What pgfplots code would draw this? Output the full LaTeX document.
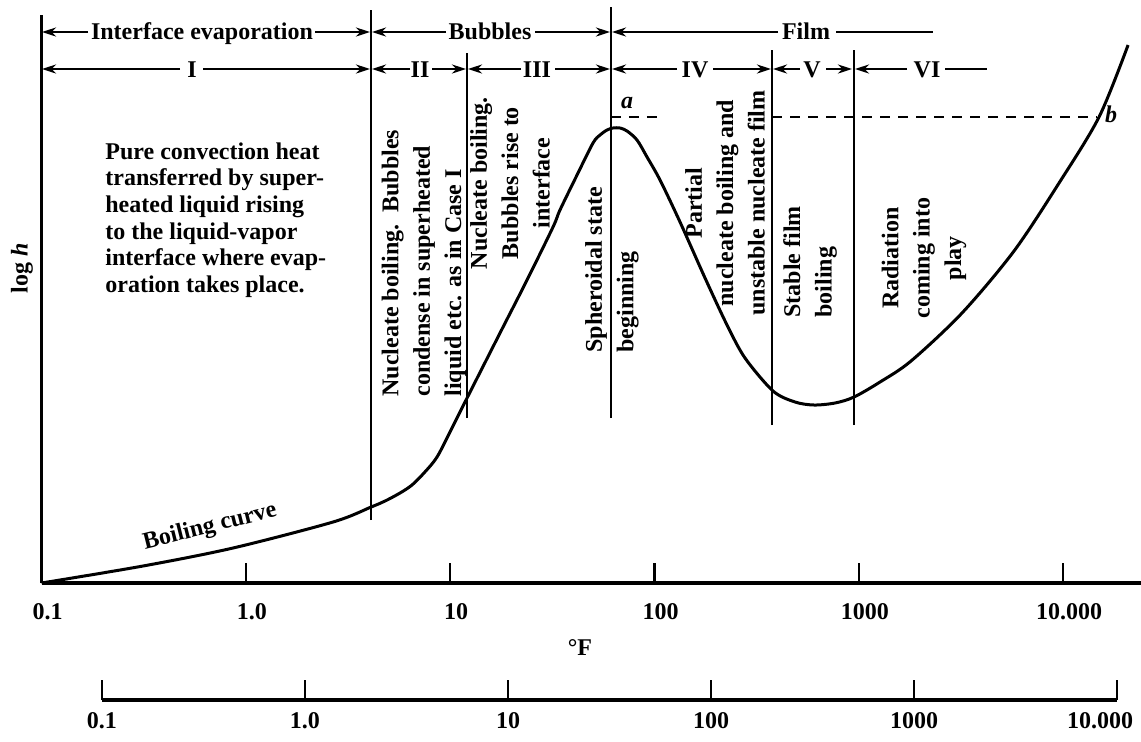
\documentclass[border=0pt]{standalone}
\usepackage{fontspec}
\setmainfont{Liberation Serif}
\usepackage{pgfplots}
\pgfplotsset{compat=1.18}
\usetikzlibrary{arrows.meta}

\newcommand{\lbl}{\bfseries\fontsize{12}{13.35}\selectfont}
\newcommand{\vlbl}{\bfseries\fontsize{12}{15.7}\selectfont}

\begin{document}
\begin{tikzpicture}[
  arr/.style={line width=1.2pt, -{Stealth[length=7pt,width=4.5pt]}},
  vl/.style={line width=1.2pt},
  dl/.style={line width=1pt, dash pattern=on 5pt off 4pt},
  vtext/.style={rotate=90, font=\vlbl, inner sep=0pt},
]

% Boiling curve against temperature difference (deg F)
\begin{axis}[
  name=main,
  at={(20.8pt,-291.5pt)}, anchor=south west,
  scale only axis, width=549.7pt, height=284pt,
  xmode=log, xmin=0.1, xmax=24050,
  ymin=0, ymax=568,
  enlargelimits=false, clip=false,
  axis x line*=bottom, axis y line*=left,
  x axis line style={line width=2pt},
  y axis line style={line width=1.4pt},
  ytick=\empty,
  xtick={0.1,1,10,100,1000,10000},
  xticklabels={0.1,1.0,10,100,1000,10.000},
  xticklabel style={font=\lbl, yshift=-6.5pt, xshift=3pt},
  tick align=inside, major tick length=10pt,
  tick style={line width=1.2pt, black},
  xminorticks=false,
]
\addplot[smooth, line width=1.5pt, black] coordinates {
  (0.1,0) (0.3135,17) (0.865,35) (2.67,61) (4.10,76) (4.80,82) (5.68,90)
  (6.50,98) (7.44,110) (8.62,126) (10.20,155) (12.09,185) (17.53,250)
  (23.77,303) (31.86,356) (34.46,373) (41.76,408) (50.0,440) (54.1,448)
  (58.56,453) (62.64,455) (67.79,455) (73.35,452) (82.1,443) (91.9,426)
  (106.4,403) (133.3,361) (176.7,305) (226.4,258) (277.3,225) (380.2,192)
  (487.2,181) (603.6,178) (764.7,180) (947.5,186) (1270,201) (1801,222)
  (3200,270) (5750,332) (9550,400) (14990,466) (20790,538)
};
% regime boundaries
\draw[vl] (axis cs:4.1,63) -- (axis cs:4.1,573);
\draw[vl] (axis cs:12.1,165) -- (axis cs:12.1,530);
\draw[vl] (axis cs:61.2,165) -- (axis cs:61.2,576);
\draw[vl] (axis cs:376,158) -- (axis cs:376,533);
\draw[vl] (axis cs:950,158) -- (axis cs:950,533);
% equal heat transfer coefficient at a and b
\draw[dl] (axis cs:61.2,466) -- (axis cs:112,466);
\draw[dl] (axis cs:376,466) -- (axis cs:14600,466);
\end{axis}

% second temperature scale
\begin{axis}[
  name=second,
  at={(51pt,-350pt)}, anchor=south west,
  scale only axis, width=507.5pt, height=10pt,
  xmode=log, xmin=0.1, xmax=10000,
  ymin=0, ymax=1,
  enlargelimits=false,
  axis x line*=bottom, axis y line=none,
  x axis line style={line width=1.6pt},
  xtick={0.1,1,10,100,1000},
  xticklabels={0.1,1.0,10,100,1000},
  xticklabel style={font=\lbl, yshift=-2.5pt},
  extra x ticks={10000},
  extra x tick labels={10.000},
  extra x tick style={xticklabel style={xshift=-8.5pt}},
  tick align=inside, major tick length=10pt,
  tick style={line width=1.2pt, black},
  xminorticks=false,
]
\end{axis}

\begin{scope}[x=0.5pt, y=-0.5pt]
  % regime headers
  \draw[arr] (88,32) -- (42,32);
  \node[font=\lbl, anchor=base] at (202,39) {Interface evaporation};
  \draw[arr] (315,32) -- (370,32);
  \draw[arr] (446,32) -- (372,32);
  \node[font=\lbl, anchor=base] at (490,39) {Bubbles};
  \draw[arr] (535,32) -- (610,32);
  \draw[arr] (778,32) -- (612,32);
  \node[font=\lbl, anchor=base] at (806,39) {Film};
  \draw[line width=1.2pt] (836,32) -- (933,32);

  \draw[arr] (180,69) -- (42,69);
  \node[font=\lbl, anchor=base] at (192,77) {I};
  \draw[arr] (203,69) -- (370,69);
  \draw[arr] (410,69) -- (372,69);
  \node[font=\lbl, anchor=base] at (420,77) {II};
  \draw[arr] (432,69) -- (466,69);
  \draw[arr] (521,69) -- (468,69);
  \node[font=\lbl, anchor=base] at (537,77) {III};
  \draw[arr] (555,69) -- (610,69);
  \draw[arr] (677,69) -- (612,69);
  \node[font=\lbl, anchor=base] at (695,77) {IV};
  \draw[arr] (713,69) -- (771,69);
  \draw[arr] (800,69) -- (773,69);
  \node[font=\lbl, anchor=base] at (812,77) {V};
  \draw[arr] (826,69) -- (852,69);
  \draw[arr] (907,69) -- (855,69);
  \node[font=\lbl, anchor=base] at (927,77) {VI};
  \draw[line width=1.2pt] (945,69) -- (987,69);

  % axis titles
  \node[rotate=90, font=\lbl] at (22,268) {log \textit{h}};
  \node[font=\lbl] at (580,648) {°F};

  % descriptions
  \node[font=\lbl, anchor=north west, align=left, inner sep=0pt] at (105,142)
    {Pure convection heat\\transferred by super-\\heated liquid rising\\to the liquid-vapor\\interface where evap-\\oration takes place.};
  \node[font=\lbl, rotate=14] at (210,527) {Boiling curve};

  \node[vtext, anchor=west, align=left] at (424,397)
    {Nucleate boiling.\ \ Bubbles\\condense in superheated\\liquid etc. as in Case I};
  \node[vtext, align=center] at (510,183)
    {Nucleate boiling.\\Bubbles rise to\\interface};
  \node[vtext, anchor=west, align=left] at (612,353)
    {Spheroidal state\\beginning};
  \node[vtext, align=center] at (725,203)
    {Partial\\nucleate boiling and\\unstable nucleate film};
  \node[vtext, anchor=west, align=left] at (810,318)
    {Stable film\\boiling};
  \node[vtext, align=center] at (924,258)
    {Radiation\\coming into\\play};

  \node[font=\lbl\itshape] at (627,103) {a};
  \node[font=\lbl\itshape] at (1111,114) {b};
\end{scope}

\pgfresetboundingbox
\begin{scope}[x=0.5pt, y=-0.5pt]
  \useasboundingbox (0,0) rectangle (1141,741);
\end{scope}
\end{tikzpicture}
\end{document}
